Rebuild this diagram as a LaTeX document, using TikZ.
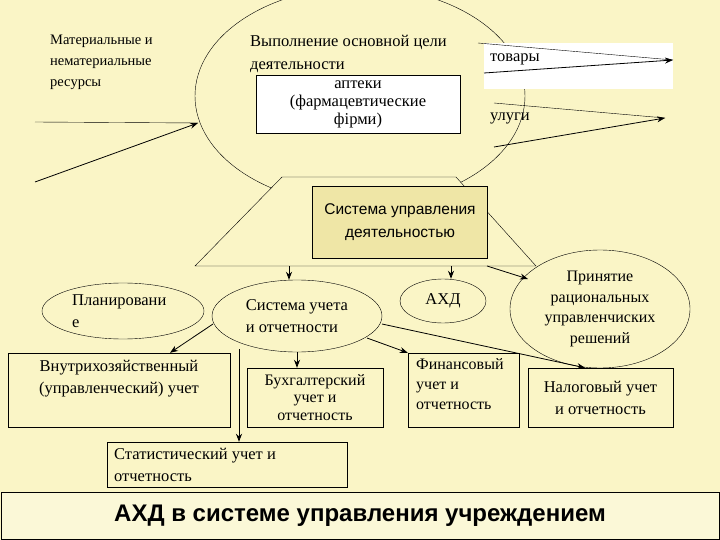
\documentclass[tikz,border=0pt]{standalone}
\usepackage{fontspec}
\setmainfont{Liberation Serif}
\newfontfamily\sansf{Liberation Sans}
\usetikzlibrary{shapes.geometric,positioning,arrows.meta}
\definecolor{bgyel}{HTML}{FAF5C6}
\definecolor{boxtan}{HTML}{EFE6A6}
\tikzset{
  lbl/.style={font=\fontsize{16.5}{22}\selectfont, inner sep=0pt, align=center},
  rbox/.style={draw, thin, fill=bgyel, inner sep=0pt},
  oval/.style={draw, thin, ellipse, inner sep=0pt},
  arr/.style={-{Stealth[length=8pt,width=6pt]}, thick},
}
\begin{document}
\begin{tikzpicture}[x=1pt,y=-1pt]
    \fill [bgyel] (0,0) rectangle (720,540);
    \useasboundingbox (0,0) rectangle (720,540);
    % upper part
    \node [oval, minimum width=330, minimum height=218] (goal) at (360,96) {};
    \node [draw, fill=white, minimum width=204, minimum height=58] (pharm) at (358,104) {};
    \node [lbl, font=\fontsize{16.5}{18}\selectfont] at (pharm) {аптеки\\(фармацевтические\\фірми)};
    \node [fill=white, minimum width=189, minimum height=46, inner sep=0pt] (goods) at (578,66) {};
    \node [lbl, anchor=west] at (250,42) {Выполнение основной цели};
    \node [lbl, anchor=west] at (250,67) {деятельности};
    \node [lbl, anchor=west, font=\fontsize{14.5}{21}\selectfont, align=left] (res) at (50,62)
        {Материальные и\\нематериальные\\ресурсы};
    \node [lbl, anchor=west] at (490,59) {товары};
    \node [lbl, anchor=west] at (490,118) {улуги};
    \coordinate (in1) at (35,122);
    \coordinate (in2) at (35,182);
    \coordinate (inend) at (198,123);
    \draw (in1) -- (inend);
    \draw [arr] (in2) -- (inend);
    \coordinate (g1) at (478,43);
    \coordinate (g2) at (484,73);
    \coordinate (gend) at (673,60);
    \draw (g1) -- (gend);
    \draw [arr] (g2) -- (gend);
    \coordinate (u1) at (494,103);
    \coordinate (u2) at (494,147);
    \coordinate (uend) at (665,118);
    \draw (u1) -- (uend);
    \draw [arr] (u2) -- (uend);
    % management system
    \draw [fill=bgyel] (282,177) -- (456,177) -- (536,266) -- (195,266) -- cycle;
    \node [draw, fill=boxtan, minimum width=175, minimum height=72, inner sep=0pt,
           font=\sansf\fontsize{15.5}{23}\selectfont, align=center] (mgmt) at (400,222)
        {Система управления\\деятельностью};
    \coordinate (t1) at (289,266);
    \coordinate (t2) at (451,266);
    \coordinate (t3) at (487,266);
    % ovals
    \node [oval, minimum width=162, minimum height=56] (plan) at (123,311) {};
    \node [lbl, align=left, anchor=west] at (72,311) {Планировани\\е};
    \node [oval, minimum width=170, minimum height=72] (acct) at (297,316) {};
    \node [lbl, align=left] at (acct) {Система учета\\и отчетности};
    \node [oval, minimum width=86, minimum height=44] (ahd) at (443,301) {};
    \node [lbl] at (ahd) {АХД};
    \node [oval, minimum width=180, minimum height=118] (dec) at (600,309) {};
    \node [lbl, font=\fontsize{16}{20.5}\selectfont] at (dec) {Принятие\\рациональных\\управленчиских\\решений};
    \draw [arr] (t1) -- (acct.north -| t1);
    \draw [arr] (t2) -- (ahd.north -| t2);
    \draw [arr] (t3) -- (528,279);
    % boxes
    \node [rbox, minimum width=222, minimum height=74] (intra) at (119,390) {};
    \node [lbl, anchor=north] at (119,360) {Внутрихозяйственный\\(управленческий) учет};
    \node [rbox, minimum width=136, minimum height=59] (buh) at (315,397.5) {};
    \node [lbl, font=\fontsize{16}{17.5}\selectfont] at (buh) {Бухгалтерский\\учет и\\отчетность};
    \node [rbox, minimum width=111, minimum height=74] (fin) at (463.5,390) {};
    \node [lbl, align=left, anchor=north west, font=\fontsize{16}{20}\selectfont] at (416,358) {Финансовый\\учет и\\отчетность};
    \node [rbox, minimum width=145, minimum height=59] (tax) at (600.5,397.5) {};
    \node [lbl] at (tax) {Налоговый учет\\и отчетность};
    \node [rbox, minimum width=240, minimum height=45] (stat) at (227,464.5) {};
    \node [lbl, align=left, anchor=west] at (114,464.5) {Статистический учет и\\отчетность};
    \draw [arr] (213,324) -- (intra.north -| 170,0);
    \draw [arr] (239,349) -- (stat.north -| 239,0);
    \draw [arr] (acct.south) -- (buh.north -| acct.south);
    \draw [arr] (367,338) -- (fin.north west);
    \draw [arr] (382,324) -- (tax.north -| 585,0);
    % title bar
    \node [draw, thick, fill=bgyel!70!white, minimum width=718, minimum height=47, inner sep=0pt,
           font=\sansf\bfseries\fontsize{24}{28}\selectfont] (title) at (360,516)
        {АХД в системе управления учреждением};
\end{tikzpicture}
\end{document}
